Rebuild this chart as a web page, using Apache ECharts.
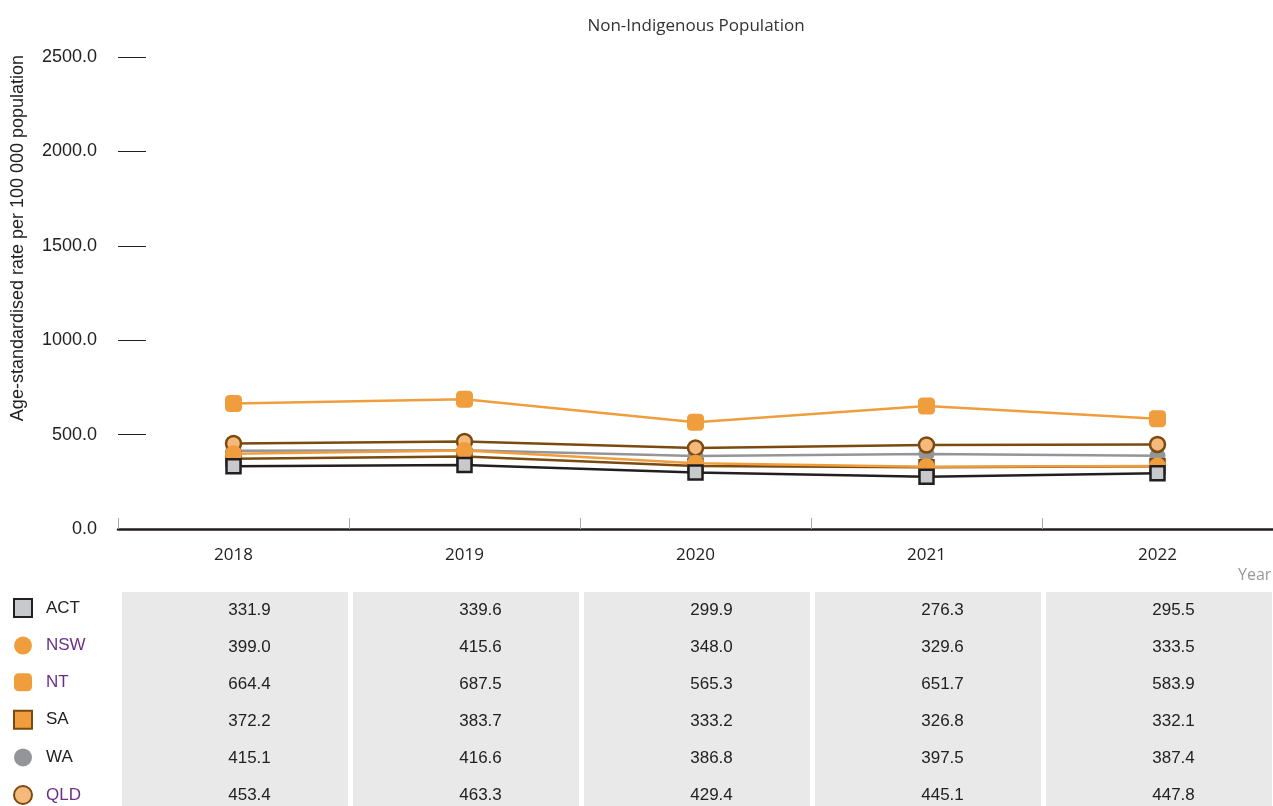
<!DOCTYPE html>
<html>
<head>
<meta charset="utf-8">
<script src="https://cdn.jsdelivr.net/npm/echarts@6/dist/echarts.min.js"></script>
<style>
  html, body { margin: 0; padding: 0; background: #fff; }
  #chart { width: 1273px; height: 806px; }
</style>
</head>
<body>
<div id="chart"></div>
<script>
// data
var years = ['2018', '2019', '2020', '2021', '2022'];
var yTicks = [0, 500, 1000, 1500, 2000, 2500];
var states = ['ACT', 'NSW', 'NT', 'SA', 'WA', 'QLD'];
var act = [331.9, 339.6, 299.9, 276.3, 295.5];
var nsw = [399.0, 415.6, 348.0, 329.6, 333.5];
var nt = [664.4, 687.5, 565.3, 651.7, 583.9];
var sa = [372.2, 383.7, 333.2, 326.8, 332.1];
var wa = [415.1, 416.6, 386.8, 397.5, 387.4];
var qld = [453.4, 463.3, 429.4, 445.1, 447.8];

var values = [act, nsw, nt, sa, wa, qld];

var ORANGE = '#f09d3e';
var BROWN = '#7a4a10';
var DARK = '#231f20';
var GREY = '#949598';
var PURPLE = '#6b2f87';

// look of each series
var looks = {
    ACT: { line: DARK, symbol: 'rect', size: 14, fill: '#c8c9cb', border: DARK, bw: 2.5, z: 8, legendText: '#222', icon: 'rect' },
    NSW: { line: ORANGE, symbol: 'circle', size: 17, fill: ORANGE, border: ORANGE, bw: 0, z: 6, legendText: PURPLE, icon: 'circle' },
    NT:  { line: ORANGE, symbol: 'roundRect', size: 17, fill: ORANGE, border: ORANGE, bw: 0, z: 7, legendText: PURPLE, icon: 'roundRect' },
    SA:  { line: BROWN, symbol: 'rect', size: 14, fill: ORANGE, border: BROWN, bw: 2.5, z: 3, legendText: '#222', icon: 'rect' },
    WA:  { line: GREY, symbol: 'circle', size: 16, fill: GREY, border: GREY, bw: 0, z: 2, legendText: '#222', icon: 'circle' },
    QLD: { line: BROWN, symbol: 'circle', size: 15, fill: '#f6b97c', border: BROWN, bw: 2.5, z: 5, legendText: PURPLE, icon: 'circle' }
};

var series = states.map(function (s, i) {
    var lk = looks[s];
    return {
        name: s,
        type: 'line',
        data: values[i],
        symbol: lk.symbol,
        symbolSize: lk.size,
        showAllSymbol: true,
        z: lk.z,
        lineStyle: { color: lk.line, width: 2.5 },
        itemStyle: { color: lk.fill, borderColor: lk.border, borderWidth: lk.bw, opacity: 1 },
        emphasis: { disabled: true }
    };
});

var chart = echarts.init(document.getElementById('chart'));

var option = {
    animation: false,
    backgroundColor: '#fff',
    title: {
        text: 'Non-Indigenous Population',
        left: 696,
        textAlign: 'center',
        top: 18,
        padding: 0,
        textStyle: { fontFamily: 'Open Sans', fontSize: 17, fontWeight: 'normal', color: '#333' }
    },
    legend: {
        orient: 'vertical',
        left: 13,
        top: 598,
        height: 260,
        padding: 0,
        itemWidth: 18,
        itemHeight: 18,
        itemGap: 18.6,
        selectedMode: false,
        textStyle: { fontFamily: 'Liberation Sans, Arial', fontSize: 17, lineHeight: 18, color: '#222', padding: [0, 0, 0, 9] },
        data: states.map(function (s) {
            return { name: s, icon: looks[s].icon, textStyle: { color: looks[s].legendText } };
        })
    },
    grid: { left: 118, top: 57, width: 1157, bottom: 277, containLabel: false },
    xAxis: {
        type: 'category',
        data: years,
        boundaryGap: true,
        axisLine: { lineStyle: { color: DARK, width: 2.5 } },
        axisTick: { show: true, inside: true, length: 11, lineStyle: { color: '#aaa', width: 1 } },
        axisLabel: { margin: 18, fontFamily: 'Open Sans', fontSize: 17, color: '#222' }
    },
    yAxis: {
        type: 'value',
        min: yTicks[0],
        max: yTicks[yTicks.length - 1],
        interval: yTicks[1] - yTicks[0],
        axisLine: { show: false },
        axisTick: { show: true, inside: true, length: 28, lineStyle: { color: DARK, width: 1 } },
        splitLine: { show: false },
        axisLabel: {
            margin: 21,
            fontFamily: 'Liberation Sans, Arial',
            fontSize: 18,
            color: '#222',
            formatter: function (v) { return v.toFixed(1); }
        }
    },
    series: series
};

chart.setOption(option);

// table under the chart, columns follow the x axis bands
var c0 = chart.convertToPixel({ xAxisIndex: 0 }, years[0]);
var c1 = chart.convertToPixel({ xAxisIndex: 0 }, years[1]);
var band = c1 - c0;
var graphics = [];
years.forEach(function (y, j) {
    var cx = chart.convertToPixel({ xAxisIndex: 0 }, y);
    var x0 = cx - band / 2;
    graphics.push({
        type: 'rect',
        shape: { x: x0 + 4, y: 592, width: band - 5, height: 220 },
        style: { fill: '#e9e9e9' },
        silent: true
    });
    states.forEach(function (s, i) {
        graphics.push({
            type: 'text',
            x: cx + 16,
            y: 610 + i * 37,
            style: {
                text: values[i][j].toFixed(1),
                fill: '#222',
                font: '17px "Liberation Sans", Arial',
                align: 'center',
                verticalAlign: 'middle'
            },
            silent: true
        });
    });
});

// axis titles
graphics.push({
    type: 'text',
    x: 18,
    y: 238,
    rotation: Math.PI / 2,
    style: {
        text: 'Age-standardised rate per 100 000 population',
        fill: '#222',
        font: '18px "Liberation Sans", Arial',
        align: 'center',
        verticalAlign: 'middle'
    },
    silent: true
});
graphics.push({
    type: 'text',
    x: 1238,
    y: 575,
    style: {
        text: 'Year',
        fill: '#999',
        font: '16px "Open Sans"',
        align: 'left',
        verticalAlign: 'middle'
    },
    silent: true
});

chart.setOption({ graphic: graphics });
</script>
</body>
</html>
